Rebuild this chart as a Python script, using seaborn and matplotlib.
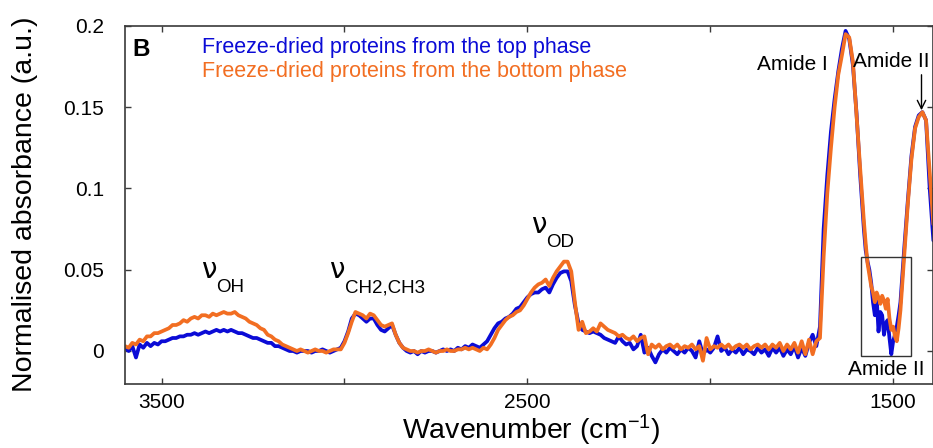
import numpy as np
import pandas as pd
import matplotlib
matplotlib.use("Agg")
import matplotlib.pyplot as plt
from matplotlib.patches import Rectangle, FancyArrowPatch
import seaborn as sns

# ---------------- data ----------------
series_names = ["Freeze-dried proteins from the top phase",
                "Freeze-dried proteins from the bottom phase"]

# nu(OH) band + baseline, 3600 -> 3020 cm-1, step 10
wn_oh = np.arange(3600, 3019, -10)
top_oh = [0.002, 0.000, 0.003, -0.004, 0.004, 0.002, 0.005, 0.003, 0.005, 0.004,
          0.006, 0.006, 0.007, 0.008, 0.008, 0.009, 0.009, 0.010, 0.010, 0.011,
          0.010, 0.011, 0.012, 0.011, 0.012, 0.013, 0.012, 0.013, 0.012, 0.013,
          0.012, 0.011, 0.011, 0.010, 0.009, 0.008, 0.008, 0.007, 0.006, 0.005,
          0.005, 0.003, 0.003, 0.002, 0.001, 0.000, 0.000,
          -0.001, 0.000, 0.000, 0.000, -0.001, 0.000, 0.000, 0.001, 0.000, -0.001, 0.000, 0.001]
bottom_oh = [0.003, 0.002, 0.005, 0.004, 0.007, 0.006, 0.009, 0.009, 0.011, 0.011,
             0.012, 0.013, 0.014, 0.016, 0.016, 0.017, 0.019, 0.018, 0.020, 0.021,
             0.020, 0.022, 0.022, 0.021, 0.023, 0.022, 0.023, 0.024, 0.023, 0.023,
             0.024, 0.022, 0.021, 0.020, 0.018, 0.017, 0.016, 0.014, 0.013, 0.010,
             0.009, 0.007, 0.006, 0.004, 0.003, 0.002, 0.001,
             0.000, 0.001, 0.000, -0.001, 0.000, 0.001, 0.000, 0.000, -0.001, 0.000, 0.001, 0.001]

# nu(CH2,CH3) band + baseline, 3010 -> 2650 cm-1, step 10
wn_ch = np.arange(3010, 2649, -10)
top_ch = [0.002, 0.006, 0.012, 0.020, 0.023, 0.022, 0.020, 0.018, 0.020, 0.020,
          0.016, 0.013, 0.012, 0.014, 0.016, 0.010, 0.005, 0.002,
          0.000, -0.001, 0.000, -0.002, 0.000, -0.001, 0.000, 0.000, -0.001, 0.000,
          0.001, 0.000, 0.001, 0.000, 0.002, 0.001, 0.003, 0.002, 0.004]
bottom_ch = [0.001, 0.005, 0.011, 0.018, 0.024, 0.023, 0.022, 0.020, 0.023, 0.022,
             0.019, 0.016, 0.015, 0.016, 0.017, 0.010, 0.005, 0.002,
             0.001, 0.000, 0.000, -0.001, 0.000, 0.000, 0.001, 0.000, -0.001, 0.000,
             0.000, 0.001, 0.000, 0.000, 0.001, 0.001, 0.002, 0.001, 0.002]

# nu(OD) band, 2640 -> 2340 cm-1, step 10
wn_od = np.arange(2640, 2339, -10)
top_od = [0.003, 0.002, 0.004, 0.006, 0.010, 0.014, 0.017, 0.018, 0.020, 0.021,
          0.023, 0.026, 0.027, 0.030, 0.033, 0.035, 0.036, 0.036, 0.038, 0.039,
          0.036, 0.041, 0.045, 0.048, 0.049, 0.049, 0.043, 0.028, 0.017, 0.013,
          0.012]
bottom_od = [0.001, 0.000, 0.002, 0.001, 0.004, 0.008, 0.013, 0.016, 0.019, 0.021,
             0.022, 0.024, 0.025, 0.028, 0.032, 0.036, 0.039, 0.041, 0.042, 0.044,
             0.040, 0.045, 0.049, 0.052, 0.055, 0.055, 0.049, 0.030, 0.013, 0.018,
             0.011]

# noisy baseline, 2330 -> 1710 cm-1, step 10
wn_mid = np.arange(2330, 1709, -10)
top_mid = [0.011, 0.012, 0.011, 0.010, 0.008, 0.007, 0.006, 0.005, 0.009, 0.006,
           0.004, 0.005, 0.001, 0.003, 0.010, -0.001, 0.002, -0.003, -0.007, -0.002,
           0.001, -0.001, 0.002, 0.000, -0.002, 0.001, -0.001, 0.002, 0.000, -0.004,
           0.006, -0.002, 0.001, -0.001, 0.002, 0.009, 0.000, 0.002, -0.002, 0.001,
           -0.001, 0.002, -0.002, 0.001, 0.000, -0.002, 0.002, -0.001, 0.001, -0.003,
           0.002, -0.001, 0.002, -0.003, 0.001, -0.002, 0.003, -0.004, 0.002, -0.003,
           0.005, 0.010, 0.003]
bottom_mid = [0.012, 0.014, 0.012, 0.017, 0.015, 0.013, 0.012, 0.011, 0.009, 0.010,
              0.008, 0.007, 0.009, 0.006, 0.008, 0.009, -0.002, 0.004, 0.002, 0.004,
              0.001, 0.003, 0.004, 0.002, 0.004, 0.001, 0.003, 0.002, 0.004, 0.001,
              0.003, -0.006, 0.008, 0.001, 0.003, 0.002, 0.004, 0.002, 0.004, 0.001,
              0.003, 0.004, 0.002, 0.004, 0.001, 0.003, 0.004, 0.002, 0.004, 0.001,
              0.004, 0.002, 0.005, 0.000, 0.004, 0.001, 0.005, -0.001, 0.006, -0.002,
              0.007, -0.002, 0.006]

# Amide I, 1700 -> 1580 cm-1, step 10
wn_am1 = np.arange(1700, 1579, -10)
top_am1 = [0.015, 0.075, 0.108, 0.135, 0.155, 0.172, 0.186, 0.197, 0.192, 0.176,
           0.146, 0.108, 0.075]
bottom_am1 = [0.008, 0.058, 0.097, 0.125, 0.150, 0.170, 0.182, 0.195, 0.193, 0.178,
              0.145, 0.112, 0.080]

# boxed region, 1575 -> 1485 cm-1, step 5
wn_box = np.arange(1575, 1484, -5)
top_box = [0.062, 0.055, 0.050, 0.042, 0.030, 0.022, 0.033, 0.012, 0.024, 0.022,
           0.010, 0.017, 0.019, 0.008, -0.002, 0.006, 0.010, 0.015, 0.022]
bottom_box = [0.066, 0.054, 0.047, 0.040, 0.036, 0.030, 0.036, 0.033, 0.029, 0.034,
              0.031, 0.026, 0.032, 0.020, 0.013, 0.015, 0.009, 0.006, 0.014]

# Amide II, 1480 -> 1390 cm-1, step 10
wn_am2 = np.arange(1480, 1389, -10)
top_am2 = [0.030, 0.062, 0.092, 0.120, 0.138, 0.145, 0.147, 0.142, 0.100, 0.068]
bottom_am2 = [0.025, 0.057, 0.090, 0.118, 0.137, 0.144, 0.147, 0.142, 0.110, 0.078]

x_ticks = [3500, 3000, 2500, 2000, 1500]
x_tick_labels = ["3500", "", "2500", "", "1500"]
y_ticks = [0, 0.05, 0.1, 0.15, 0.2]
y_tick_labels = ["0", "0.05", "0.1", "0.15", "0.2"]

# ---------------- style ----------------
BLUE = "#0B0BD6"
ORANGE = "#F26E22"
SPINE = "#3a3a3a"

sns.set_style("ticks")
plt.rcParams["font.family"] = ["Liberation Sans", "DejaVu Sans"]
plt.rcParams["text.color"] = "black"
plt.rcParams["mathtext.fontset"] = "custom"
plt.rcParams["mathtext.rm"] = "Liberation Sans"
plt.rcParams["mathtext.it"] = "Liberation Sans:italic"
plt.rcParams["mathtext.bf"] = "Liberation Sans:bold"

W, H = 933, 448
fig = plt.figure(figsize=(W / 100, H / 100), dpi=100)
L, R, T, B = 125, 933, 26, 383.5
ax = fig.add_axes([L / W, 1 - B / H, (R - L) / W, (B - T) / H])

wn = np.concatenate([wn_oh, wn_ch, wn_od, wn_mid, wn_am1, wn_box, wn_am2])
top = np.concatenate([top_oh, top_ch, top_od, top_mid, top_am1, top_box, top_am2])
bottom = np.concatenate([bottom_oh, bottom_ch, bottom_od, bottom_mid, bottom_am1,
                         bottom_box, bottom_am2])
n = len(wn)
df = pd.DataFrame({
    "wavenumber": np.concatenate([wn, wn]),
    "absorbance": np.concatenate([top, bottom]),
    "sample": [series_names[0]] * n + [series_names[1]] * n,
})

sns.lineplot(data=df, x="wavenumber", y="absorbance", hue="sample",
             hue_order=series_names, palette=[BLUE, ORANGE], estimator=None,
             legend=False, lw=2.7, ax=ax)

ax.set_xlim(3600, 1391)
ax.set_ylim(-0.02, 0.2)
ax.set_xticks(x_ticks)
ax.set_xticklabels(x_tick_labels)
ax.set_yticks(y_ticks)
ax.set_yticklabels(y_tick_labels)
ax.set_xlabel("")
ax.set_ylabel("")
ax.tick_params(axis="both", which="both", direction="in", length=4.5, width=1,
               color=SPINE, labelcolor="black", labelsize=15,
               top=True, right=True)
ax.tick_params(axis="x", pad=6.5)
ax.tick_params(axis="y", pad=15)
for s in ax.spines.values():
    s.set_visible(True)
    s.set_color(SPINE)
    s.set_linewidth(1.2)


def fx(x):
    return x / W


def fy(y):
    return 1 - y / H


# axis labels
fig.text(fx(531), fy(439.5), "Wavenumber (cm$^{-1}$)", ha="center", va="baseline",
         fontsize=20.5, color="black")
fig.text(fx(25), fy(204), "Normalised absorbance (a.u.)", rotation=90,
         ha="center", va="center", fontsize=20.5, color="black")

# panel letter and legend texts
fig.text(fx(132), fy(56), "B", fontsize=17.5, fontweight="bold", va="baseline",
         color="black")
fig.text(fx(202), fy(52.5), series_names[0], color=BLUE, fontsize=15.5, va="baseline")
fig.text(fx(202), fy(77), series_names[1], color=ORANGE, fontsize=15.5, va="baseline")

# band annotations
NU = dict(fontsize=20, va="baseline", family=["DejaVu Sans"], color="black")
SUB = dict(fontsize=13.5, va="baseline", color="black")
fig.text(fx(201), fy(278), "ν", **NU)
fig.text(fx(216), fy(292), "OH", **SUB)
fig.text(fx(329), fy(278), "ν", **NU)
fig.text(fx(345), fy(292), "CH2,CH3", **SUB)
fig.text(fx(531), fy(233), "ν", **NU)
fig.text(fx(546), fy(247), "OD", **SUB)

fig.text(fx(757), fy(70), "Amide I", fontsize=15, va="baseline", color="black")
fig.text(fx(853), fy(67), "Amide II", fontsize=15, va="baseline", color="black")
fig.text(fx(848), fy(375), "Amide II", fontsize=15, va="baseline", color="black")

fig.add_artist(FancyArrowPatch(
    (fx(921.5), fy(72)), (fx(921.5), fy(113)), transform=fig.transFigure,
    arrowstyle="->", mutation_scale=15, lw=1, color="black"))

fig.add_artist(Rectangle((fx(861), fy(356)), fx(911) - fx(861), fy(257) - fy(356),
                         transform=fig.transFigure, fill=False,
                         edgecolor="#333333", lw=1))

fig.savefig("out.png", dpi=100)
